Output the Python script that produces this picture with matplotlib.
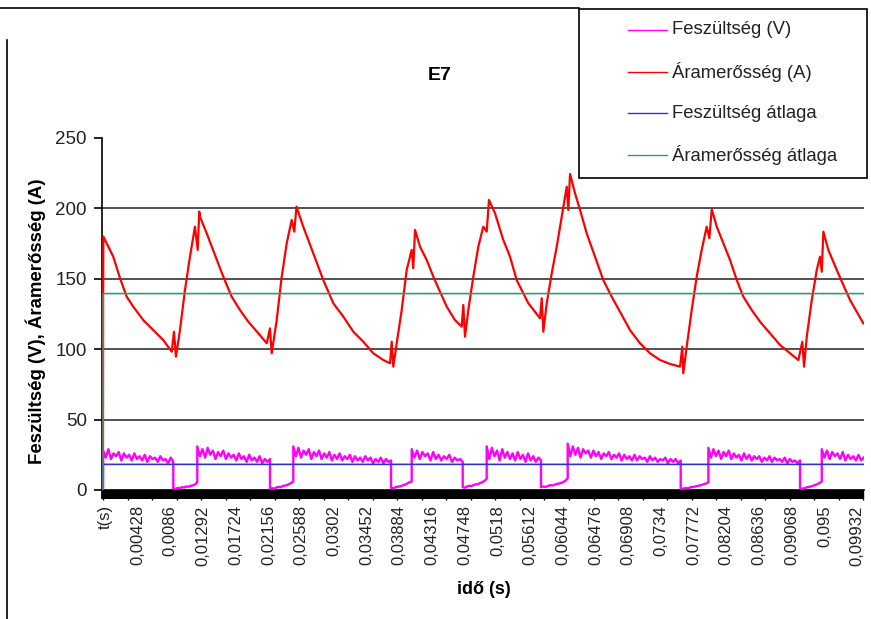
import numpy as np
import matplotlib
matplotlib.use("Agg")
import matplotlib.pyplot as plt
from matplotlib.lines import Line2D
from matplotlib.patches import Rectangle
from matplotlib.ticker import FixedLocator, MultipleLocator, NullFormatter

plt.rcParams['font.family'] = ['Liberation Sans', 'DejaVu Sans']

# ---------------- data (time in ms) ----------------
current_t = [0.0, 0.02, 0.05, 1.36, 2.25, 3.13, 4.00, 5.32, 6.65, 7.97, 9.08, 9.38, 9.64,
             10.17, 10.83, 11.49, 12.15, 12.51, 12.72, 12.81, 13.70, 14.80, 15.89, 17.00,
             18.10, 19.20, 20.52, 21.63, 22.06, 22.29, 22.95, 23.61, 24.27, 24.93, 25.27,
             25.56, 26.46, 27.78, 29.10, 30.43, 31.75, 33.07, 34.39, 35.71, 37.03, 37.92,
             38.14, 38.35, 38.80, 39.46, 40.12, 40.78, 40.99, 41.22, 41.88, 42.76, 43.64,
             44.52, 45.41, 46.50, 47.39, 47.60, 47.82, 48.26, 48.92, 49.58, 50.24, 50.69,
             50.99, 51.79, 52.88, 53.77, 54.65, 55.53, 56.19, 57.07, 57.73, 57.96, 58.17,
             58.62, 59.28, 59.94, 60.60, 61.26, 61.47, 61.70, 62.36, 63.02, 63.90, 65.00,
             66.09, 67.20, 68.30, 69.62, 70.94, 72.26, 73.59, 74.91, 76.23, 76.53, 76.66,
             77.11, 77.77, 78.43, 79.09, 79.75, 80.10, 80.42, 81.08, 81.95, 82.83, 83.72,
             84.59, 85.70, 86.80, 88.12, 89.44, 90.76, 91.86, 92.38, 92.61, 92.97, 93.63,
             94.29, 94.72, 94.95, 95.16, 95.82, 96.93, 97.80, 98.69, 99.57, 100.44]
current_a = [0, 141, 180, 165.7, 150.4, 137.3, 130.2, 120.7, 113.6, 106.5, 98.2, 112.4, 94.7,
             113.6, 142.0, 165.7, 187.0, 170.5, 197.7, 194.1, 182.3, 166.9, 151.5, 137.3,
             127.8, 119.5, 111.3, 104.2, 114.8, 97.1, 120.7, 151.5, 175.2, 191.8, 183.5,
             201.2, 187.0, 168.1, 149.1, 132.6, 123.1, 112.4, 105.3, 97.1, 92.3, 90.0,
             105.3, 87.6, 104.2, 127.8, 156.3, 170.5, 157.5, 184.7, 172.8, 163.4, 151.5,
             140.8, 130.2, 120.7, 116.0, 131.4, 108.9, 127.8, 151.5, 172.8, 187.0, 183.5,
             206.0, 196.5, 177.6, 165.7, 149.1, 139.7, 132.6, 126.6, 121.9, 136.2, 112.4,
             132.6, 153.9, 172.8, 194.1, 215.4, 198.9, 224.4, 210.7, 198.9, 182.3, 165.7,
             149.1, 137.3, 126.6, 113.6, 104.2, 97.1, 92.3, 89.5, 87.6, 101.8, 82.9,
             101.8, 127.8, 151.5, 170.5, 187.0, 178.8, 199.4, 187.0, 175.2, 163.4, 149.1,
             137.3, 127.8, 119.5, 111.3, 103.0, 97.1, 92.3, 105.3, 87.6, 108.9, 134.9,
             156.3, 165.7, 155.0, 183.5, 170.5, 156.3, 145.6, 134.9, 126.6, 118.4]

# voltage: readings per segment, segment boundaries in ms
volt_breaks = [0.02, 9.29, 12.46, 22.06, 25.14, 38.05, 40.78, 47.52, 50.69, 57.86,
               61.39, 76.32, 79.97, 92.08, 94.95, 100.5]
volt_high_1 = [28, 23, 29, 22, 26, 24, 27, 21, 26, 23, 25, 21, 26, 22, 24, 21, 25, 20,
               24, 22, 23, 20, 24, 21, 22, 19, 23, 20]
volt_low_1 = [1.0, 0.8, 1.5, 1.2, 2.0, 1.8, 2.5, 2.3, 3.0, 3.2, 4.0, 5.5]
volt_high_2 = [31, 24, 29, 23, 30, 25, 28, 22, 27, 24, 28, 22, 26, 23, 25, 21, 26, 22,
               24, 20, 25, 21, 23, 20, 24, 19, 22, 20, 22]
volt_low_2 = [1.0, 1.3, 0.9, 1.8, 2.2, 2.0, 2.8, 3.1, 3.5, 4.2, 5.0, 6.0]
volt_high_3 = [31, 24, 30, 23, 28, 25, 29, 22, 27, 24, 28, 22, 26, 23, 27, 21, 25, 22,
               26, 21, 24, 22, 25, 20, 24, 21, 23, 20, 24, 21, 23, 19, 22, 20, 23, 19,
               22, 20, 21]
volt_low_3 = [1.5, 1.2, 2.0, 2.4, 2.6, 3.2, 3.8, 4.5, 5.5, 6.0]
volt_high_4 = [29, 23, 28, 22, 27, 24, 26, 21, 27, 22, 25, 21, 24, 22, 25, 20, 23, 21,
               22, 20]
volt_low_4 = [2.0, 1.6, 2.5, 3.0, 2.8, 3.5, 4.0, 4.2, 5.0, 5.5, 6.5, 8.0]
volt_high_5 = [31, 22, 30, 24, 28, 21, 29, 23, 27, 22, 26, 21, 27, 22, 25, 20, 26, 21,
               24, 20, 23, 21]
volt_low_5 = [2.0, 2.5, 2.2, 3.0, 3.4, 3.2, 4.0, 4.5, 4.8, 5.5, 6.5, 8.5]
volt_high_6 = [33, 24, 31, 25, 30, 23, 29, 26, 28, 23, 28, 24, 27, 22, 26, 24, 27, 22,
               25, 23, 26, 21, 25, 22, 24, 21, 25, 21, 24, 22, 23, 20, 24, 21, 23, 20,
               22, 21, 23, 19, 22, 20, 22, 19, 21]
volt_low_6 = [0.8, 1.0, 1.4, 1.2, 2.0, 2.2, 2.6, 3.0, 3.4, 4.0, 4.6, 5.5]
volt_high_7 = [30, 23, 29, 24, 28, 22, 27, 24, 28, 22, 26, 23, 25, 21, 26, 22, 25, 21,
               24, 22, 24, 20, 23, 21, 24, 20, 23, 21, 22, 20, 23, 19, 22, 20, 21, 19, 21]
volt_low_7 = [1.5, 0.8, 1.2, 1.8, 2.2, 2.5, 3.0, 3.6, 4.2, 5.0, 6.0]
volt_high_8 = [29, 23, 28, 22, 27, 24, 26, 22, 27, 21, 25, 22, 24, 21, 25, 21, 23]

volt_avg = 18.2
current_avg = 139.5

x_labels = ["t(s)", "0,00428", "0,0086", "0,01292", "0,01724", "0,02156", "0,02588",
            "0,0302", "0,03452", "0,03884", "0,04316", "0,04748", "0,0518", "0,05612",
            "0,06044", "0,06476", "0,06908", "0,0734", "0,07772", "0,08204", "0,08636",
            "0,09068", "0,095", "0,09932"]
y_ticks = [0, 50, 100, 150, 200, 250]
series_names = ["Feszültség (V)", "Áramerősség (A)", "Feszültség átlaga", "Áramerősség átlaga"]

# ---------------- build voltage trace ----------------
segments = [volt_high_1, volt_low_1, volt_high_2, volt_low_2, volt_high_3, volt_low_3,
            volt_high_4, volt_low_4, volt_high_5, volt_low_5, volt_high_6, volt_low_6,
            volt_high_7, volt_low_7, volt_high_8]
vt = [0.0]
vv = [0.0]
for k, seg in enumerate(segments):
    ts = np.linspace(volt_breaks[k], volt_breaks[k + 1], len(seg))
    vt.extend(ts.tolist())
    vv.extend(seg)

avg_t = [0.0, 0.02, 100.5]

# ---------------- figure ----------------
W, H = 871, 619
fig = plt.figure(figsize=(W / 100, H / 100), dpi=100)
fig.patch.set_facecolor('white')

L, R, T, B = 102, 864, 138, 490
ax = fig.add_axes([L / W, 1 - B / H, (R - L) / W, (B - T) / H])

c_volt = '#FF00FF'
c_curr = '#FF0000'
c_vavg = '#3333CC'
c_cavg = '#339980'

ax.plot(vt, vv, color=c_volt, lw=1.7, zorder=3)
ax.plot(current_t, current_a, color=c_curr, lw=1.6, zorder=4)
ax.plot(avg_t, [0, volt_avg, volt_avg], color=c_vavg, lw=1.2, zorder=5)
ax.plot(avg_t, [0, current_avg, current_avg], color=c_cavg, lw=1.2, zorder=6)

ax.set_xlim(-0.13, 100.53)
ax.set_ylim(0, 250)

for s in ['top', 'right']:
    ax.spines[s].set_visible(False)
for s in ['left', 'bottom']:
    ax.spines[s].set_color('black')
    ax.spines[s].set_linewidth(1.2)

ax.set_yticks(y_ticks)
ax.set_yticklabels([str(v) for v in y_ticks], fontsize=13.5, color='#222222')
ax.tick_params(axis='y', direction='out', length=6, width=1.2, pad=5)
ax.yaxis.grid(True, color='#222222', lw=1.1)
ax.set_axisbelow(True)
for val, gl in zip(y_ticks, ax.get_ygridlines()):
    if val in (0, 250):
        gl.set_visible(False)

xpos = [0.26 + 4.32 * i for i in range(len(x_labels))]
ax.xaxis.set_major_locator(FixedLocator(xpos))
ax.set_xticklabels(x_labels, rotation=90, fontsize=12, color='#222222', va='top')
ax.tick_params(axis='x', which='major', direction='out', length=0, pad=11)
ax.xaxis.set_minor_locator(MultipleLocator(0.12))
ax.tick_params(axis='x', which='minor', direction='out', length=6.5, width=1.3, color='black')

# longer tick marks poking out below the dense tick band
sec = ax.secondary_xaxis('bottom')
sec.xaxis.set_major_locator(MultipleLocator(3.24))
sec.xaxis.set_major_formatter(NullFormatter())
sec.tick_params(axis='x', direction='out', length=7.5, width=1.0, color='black')
sec.spines['bottom'].set_visible(False)

ax.set_ylabel("Feszültség (V), Áramerősség (A)", fontsize=13.4, fontweight='bold')
ax.yaxis.set_label_coords((46 - L) / (R - L), (B - 321) / (B - T))

fig.text(484 / W, 1 - 589 / H, "idő (s)", fontsize=13, fontweight='bold',
         ha='center', va='center')
fig.text(440 / W, 1 - 75 / H, "E7", fontsize=14, fontweight='bold',
         ha='center', va='center')

# ---------------- legend (drawn in figure pixels) ----------------
def fx(x):
    return x / W

def fy(y):
    return 1 - y / H

fig.add_artist(Rectangle((fx(579), fy(178)), (867 - 579) / W, (178 - 9) / H,
                         transform=fig.transFigure, facecolor='white',
                         edgecolor='black', lw=1.2, zorder=10))
leg_colors = [c_volt, c_curr, c_vavg, c_cavg]
leg_y = [30, 72, 113, 155]
for name, col, yy in zip(series_names, leg_colors, leg_y):
    fig.add_artist(Line2D([fx(628), fx(667)], [fy(yy), fy(yy)], color=col, lw=1.0,
                          transform=fig.transFigure, zorder=11))
    fig.text(fx(672), fy(yy), name, fontsize=13.3, color='#222222', ha='left',
             va='center', zorder=12)

# outer frame fragments
fig.add_artist(Line2D([fx(0), fx(579)], [fy(8), fy(8)], color='black', lw=1.2,
                      transform=fig.transFigure))
fig.add_artist(Line2D([fx(7), fx(7)], [fy(40), fy(619)], color='black', lw=1.2,
                      transform=fig.transFigure))

fig.savefig('out.png', dpi=100, facecolor='white')
